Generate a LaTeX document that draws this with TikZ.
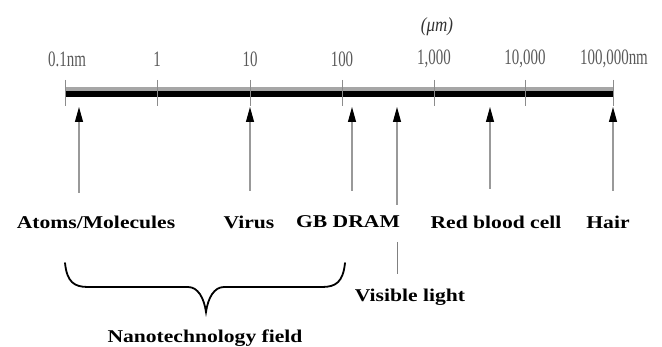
\documentclass[tikz,border=0pt]{standalone}
\usepackage{fontspec}
\setmainfont{Liberation Serif}
\usetikzlibrary{arrows.meta,positioning,calc}
\newcommand{\narrowtxt}[1]{\scalebox{0.68}[1]{#1}}
\newcommand{\widetxt}[1]{\scalebox{1.2}[1]{#1}}

\begin{document}
\begin{tikzpicture}[
  x=1pt, y=-1pt,
  tick/.style={draw=black!45, line width=1pt},
  ticklbl/.style={font=\fontsize{22}{22}\selectfont, text=black!65, inner sep=0pt},
  arr/.style={draw=black!40, line width=1.1pt,
              -{Triangle[length=15pt, width=8pt, color=black]}},
  item/.style={font=\bfseries\fontsize{18}{18}\selectfont, text=black, inner sep=0pt},
  brc/.style={draw, line width=1.8pt, line cap=round}
]
\useasboundingbox (0,0) rectangle (662,347);

% --- Scale bar ---
\coordinate (barL) at (65,94);
\coordinate (barR) at (613,94);
\draw[black!35, line width=4pt] ([yshift=4.5pt]barL) -- ([yshift=4.5pt]barR);
\draw[black, line width=6pt] (barL) -- (barR);
\foreach \x in {65,157,250,342,434,525,613}
  \draw[tick] (\x,80) -- (\x,106);

% --- Tick labels ---
\node[ticklbl] (t0) at (67,59) {\narrowtxt{0.1nm}};
\node[ticklbl] (t1) at (157,59) {\narrowtxt{1}};
\node[ticklbl] (t2) at (250,59) {\narrowtxt{10}};
\node[ticklbl] (t3) at (342,59) {\narrowtxt{100}};
\node[ticklbl] (t4) at (434,59) {\narrowtxt{1,000}};
\node[ticklbl] (t5) at (525,59) {\narrowtxt{10,000}};
\node[ticklbl] (t6) at (614,59) {\narrowtxt{100,000nm}};
\node[ticklbl, text=black!80, font=\fontsize{20}{20}\selectfont] (unit) at (437,27)
  {\scalebox{0.85}[1]{\textit{(μm)}}};

% --- Objects ---
\node[item] (atoms) at (96,222) {\widetxt{Atoms/Molecules}};
\node[item] (virus) at (249,222) {\widetxt{Virus}};
\node[item] (dram) at (348,222) {\widetxt{GB DRAM}};
\node[item] (rbc) at (496,222) {\widetxt{Red blood cell}};
\node[item] (hair) at (608,222) {\widetxt{Hair}};
\node[item] (light) at (410,297) {\widetxt{Visible light}};
\node[item] (nano) at (205,338) {\widetxt{Nanotechnology field}};

% --- Arrow ends ---
\coordinate (atomsTop) at (79,107);  \coordinate (atomsBot) at (79,193);
\coordinate (virusTop) at (250,107); \coordinate (virusBot) at (250,191);
\coordinate (dramTop) at (352,107);  \coordinate (dramBot) at (352,191);
\coordinate (lightTop) at (397,107); \coordinate (lightBot) at (397,205);
\coordinate (rbcTop) at (490,107);   \coordinate (rbcBot) at (490,189);
\coordinate (hairTop) at (613,107);  \coordinate (hairBot) at (613,191);
\coordinate (lightA) at (397,242);   \coordinate (lightB) at (397,274);

\draw[arr] (atomsBot) -- (atomsTop);
\draw[arr] (virusBot) -- (virusTop);
\draw[arr] (dramBot) -- (dramTop);
\draw[arr] (lightBot) -- (lightTop);
\draw[arr] (rbcBot) -- (rbcTop);
\draw[arr] (hairBot) -- (hairTop);
\draw[black!50, line width=1pt] (lightA) -- (lightB);

% --- Nanotechnology brace ---
\coordinate (brL) at (65,263);
\coordinate (brR) at (345,263);
\coordinate (brTip) at (206,312);
\draw[brc] (brL) .. controls (67,282) and (74,287) .. (88,287)
  -- (188,287) .. controls (198,287) and (204,298) .. (brTip)
  .. controls (208,298) and (214,287) .. (224,287)
  -- (322,287) .. controls (336,287) and (343,282) .. (brR);
\end{tikzpicture}
\end{document}
